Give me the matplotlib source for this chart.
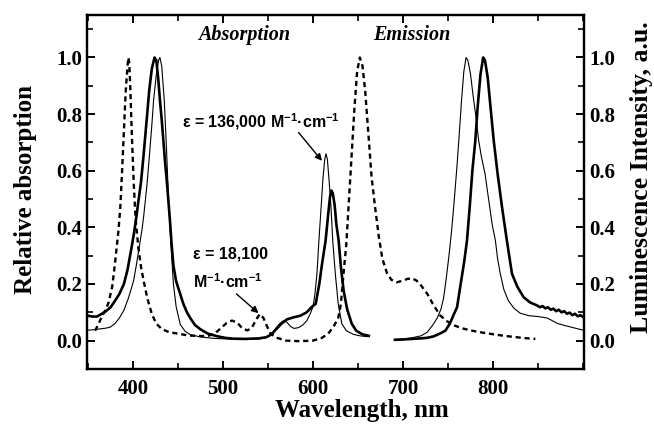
import numpy as np
import matplotlib
matplotlib.use('Agg')
import matplotlib.pyplot as plt

plt.rcParams['mathtext.fontset'] = 'custom'
plt.rcParams['mathtext.rm'] = 'Liberation Sans:bold'
plt.rcParams['mathtext.default'] = 'rm'

# reference compound: absorption + emission (dashed)
wl_ref = [358, 362, 366, 370, 373, 377, 380, 384, 386, 388, 390, 392, 394, 395, 396, 397,
          399, 401, 403, 406, 409, 412, 416, 421, 426, 432, 440, 451, 462, 477, 485, 492,
          498, 504, 510, 516, 521, 527, 532, 537, 541, 545, 549, 553, 560, 570, 585, 600,
          610, 617, 623, 628, 631, 634, 637, 640, 643, 646, 649, 652, 655, 658, 662, 665,
          669, 673, 677, 682, 687, 693, 700, 705, 710, 715, 720, 727, 733, 741, 748, 756,
          764, 775, 787, 797, 810, 823, 835, 847]
y_ref = [0.035, 0.06, 0.088, 0.11, 0.135, 0.19, 0.27, 0.39, 0.47, 0.6, 0.74, 0.88, 0.97, 1.0, 0.98, 0.9,
         0.71, 0.55, 0.43, 0.33, 0.26, 0.21, 0.15, 0.094, 0.06, 0.041, 0.03, 0.024, 0.018, 0.016, 0.018, 0.028,
         0.045, 0.062, 0.071, 0.063, 0.045, 0.036, 0.045, 0.075, 0.094, 0.08, 0.05, 0.024, 0.01, 0.0, -0.002, 0.0,
         0.01, 0.025, 0.05, 0.08, 0.13, 0.24, 0.34, 0.5, 0.66, 0.82, 0.95, 1.0, 0.97, 0.88, 0.71, 0.58,
         0.47, 0.37, 0.29, 0.24, 0.215, 0.206, 0.212, 0.218, 0.22, 0.212, 0.195, 0.165, 0.13, 0.09, 0.07, 0.055,
         0.045, 0.036, 0.029, 0.024, 0.018, 0.013, 0.009, 0.006]

# compound 1 absorption (thin)
wl_a1 = [350, 355, 360, 365, 370, 375, 380, 385, 390, 395, 400.7, 404, 406, 408, 410, 412, 415.6,
         418, 421, 423, 426, 428.5, 430, 432, 434.8, 437, 439.6, 442, 445, 448, 452.6, 458, 463.7,
         475, 490, 510, 530, 540, 548, 553, 559, 563, 567, 571, 575, 579, 584, 589, 593, 597, 600,
         602, 604.4, 606.5, 609, 611, 613, 614.5, 616, 618, 620, 622, 624.8, 628, 632, 637, 645, 652, 660]
y_a1 = [0.037, 0.038, 0.04, 0.042, 0.044, 0.048, 0.06, 0.08, 0.107, 0.15, 0.21, 0.27, 0.31, 0.35, 0.39, 0.44, 0.55,
        0.64, 0.76, 0.85, 0.94, 0.99, 1.0, 0.97, 0.85, 0.7, 0.5, 0.35, 0.2, 0.12, 0.057, 0.033, 0.021,
        0.013, 0.008, 0.005, 0.005, 0.006, 0.01, 0.02, 0.045, 0.06, 0.07, 0.065, 0.05, 0.043, 0.046, 0.056, 0.07, 0.095, 0.12,
        0.16, 0.236, 0.35, 0.47, 0.57, 0.64, 0.66, 0.64, 0.56, 0.47, 0.35, 0.236, 0.13, 0.06, 0.035, 0.022, 0.017, 0.014]

# compound 2 absorption (thick)
wl_a2 = [350, 355, 360, 365, 370, 375, 380, 385, 390, 394, 398, 401, 404, 406, 409, 412, 415.6,
         418, 421, 424, 426, 428, 430, 432, 434, 436, 438, 441, 443, 445, 448, 452, 456, 460, 464,
         469, 475, 483, 493, 502, 511, 525, 540, 548, 554, 559, 565, 571, 578, 586, 593, 599,
         603, 607, 610, 614, 617, 619, 620.5, 622, 624, 626, 628.5, 631, 634, 638, 643, 648, 655, 662]
y_a2 = [0.088, 0.085, 0.085, 0.094, 0.104, 0.117, 0.14, 0.165, 0.2, 0.25, 0.32, 0.375, 0.44, 0.49, 0.56, 0.66, 0.79,
        0.88, 0.96, 1.0, 0.99, 0.93, 0.85, 0.78, 0.7, 0.62, 0.55, 0.43, 0.34, 0.265, 0.21, 0.17, 0.13, 0.1, 0.078,
        0.055, 0.04, 0.025, 0.016, 0.01, 0.007, 0.006, 0.008, 0.012, 0.022, 0.04, 0.06, 0.075, 0.082, 0.088, 0.1, 0.12,
        0.13, 0.2, 0.27, 0.353, 0.45, 0.51, 0.53, 0.52, 0.48, 0.41, 0.353, 0.26, 0.177, 0.11, 0.06, 0.035, 0.022, 0.017]

# compound 1 emission (thin)
wl_e1 = [691, 700, 710, 720, 727, 733, 738, 742, 745, 748, 751, 754, 757, 760, 762, 765, 767.5,
         770, 772, 775, 778, 781, 784, 787, 791, 795, 799, 802.6, 805, 808, 812, 817, 823, 830,
         840, 850, 860, 866, 872, 880, 890, 900]
y_e1 = [0.004, 0.006, 0.01, 0.017, 0.03, 0.055, 0.08, 0.11, 0.15, 0.22, 0.3, 0.39, 0.5, 0.62, 0.71, 0.85, 0.95,
        1.0, 0.99, 0.94, 0.86, 0.79, 0.707, 0.65, 0.59, 0.5, 0.41, 0.353, 0.29, 0.236, 0.18, 0.141, 0.115, 0.097,
        0.088, 0.085, 0.08, 0.07, 0.06, 0.053, 0.045, 0.037]

# compound 2 emission (thick, noisy tail)
wl_e2 = [691, 700, 710, 720, 727, 734, 741, 747, 752, 756, 760, 764, 768, 771, 774, 777, 780.3,
         783, 786, 789, 791, 794, 797, 800.7, 805, 810, 815, 821, 827, 834, 841, 849,
         852, 855, 858, 861, 864, 867, 870, 873, 876, 879, 882, 885, 888, 891, 894, 897, 900]
y_e2 = [0.003, 0.004, 0.006, 0.008, 0.01, 0.015, 0.025, 0.035, 0.06, 0.09, 0.118, 0.2, 0.28, 0.353, 0.47, 0.6, 0.707,
        0.83, 0.94, 1.0, 0.99, 0.93, 0.83, 0.707, 0.59, 0.47, 0.36, 0.236, 0.19, 0.153, 0.135, 0.124,
        0.118, 0.122, 0.114, 0.118, 0.109, 0.113, 0.104, 0.109, 0.1, 0.104, 0.095, 0.099, 0.09, 0.095, 0.086, 0.09, 0.083]

fig = plt.figure(figsize=(6.54, 4.29), dpi=100)
ax = fig.add_axes([0.133, 0.140, 0.760, 0.825])

ax.plot(wl_ref, y_ref, color='black', lw=1.7, ls=(0, (2.2, 1.6)))
ax.plot(wl_a1, y_a1, color='black', lw=0.8)
ax.plot(wl_a2, y_a2, color='black', lw=1.9)
ax.plot(wl_e1, y_e1, color='black', lw=0.8)
ax.plot(wl_e2, y_e2, color='black', lw=1.9)

ax.set_xlim(349, 901)
ax.set_ylim(-0.1, 1.15)
ax.set_xticks([400, 500, 600, 700, 800])
ax.set_xticks(np.arange(350, 901, 50), minor=True)
ax.set_yticks(np.arange(0, 1.01, 0.2))
ax.set_yticks(np.arange(-0.1, 1.15, 0.1), minor=True)

ax2 = ax.twinx()
ax2.set_ylim(-0.1, 1.15)
ax2.set_yticks(np.arange(0, 1.01, 0.2))
ax2.set_yticks(np.arange(-0.1, 1.15, 0.1), minor=True)

serif = 'Liberation Serif'
for a in (ax, ax2):
    for s in a.spines.values():
        s.set_linewidth(1.6)
    a.tick_params(which='major', direction='in', length=6, width=1.4)
    a.tick_params(which='minor', direction='in', length=4, width=1.2)
    for lab in a.get_xticklabels() + a.get_yticklabels():
        lab.set_fontfamily(serif)
        lab.set_fontweight('bold')
        lab.set_fontsize(15)
ax.tick_params(which='both', top=True, right=False)
ax.tick_params(axis='x', pad=7)

ax.set_ylabel('Relative absorption', fontfamily=serif, fontweight='bold', fontsize=18)
ax.yaxis.set_label_coords(-0.100, 0.506)
ax2.set_ylabel('Luminescence Intensity, a.u.', fontfamily=serif, fontweight='bold', fontsize=18.5)
ax2.yaxis.set_label_coords(1.093, 0.541)
ax.set_xlabel('Wavelength, nm', fontfamily=serif, fontweight='bold', fontsize=18)
ax.xaxis.set_label_coords(0.553, -0.085)
ax.xaxis.label.set_va('top')

ax.text(523, 1.08, 'Absorption', fontfamily=serif, fontweight='bold', style='italic',
        fontsize=14.5, ha='center', va='center')
ax.text(710, 1.08, 'Emission', fontfamily=serif, fontweight='bold', style='italic',
        fontsize=14.5, ha='center', va='center')

sans = 'Liberation Sans'
arrow = dict(arrowstyle='-|>', color='black', lw=1.0, mutation_scale=10, shrinkA=0, shrinkB=0)
ax.text(455, 0.775, 'ε = 136,000 M$^{-1}$·cm$^{-1}$', fontfamily=sans, fontweight='bold',
        fontsize=11.5, ha='left', va='center')
ax.annotate('', xy=(610, 0.635), xytext=(584, 0.735), arrowprops=arrow)
ax.text(467, 0.305, 'ε = 18,100', fontfamily=sans, fontweight='bold',
        fontsize=11.5, ha='left', va='center')
ax.text(467, 0.21, 'M$^{-1}$·cm$^{-1}$', fontfamily=sans, fontweight='bold',
        fontsize=11.5, ha='left', va='center')
ax.annotate('', xy=(539.5, 0.097), xytext=(515, 0.165), arrowprops=arrow)

fig.savefig('out.png', dpi=100)
